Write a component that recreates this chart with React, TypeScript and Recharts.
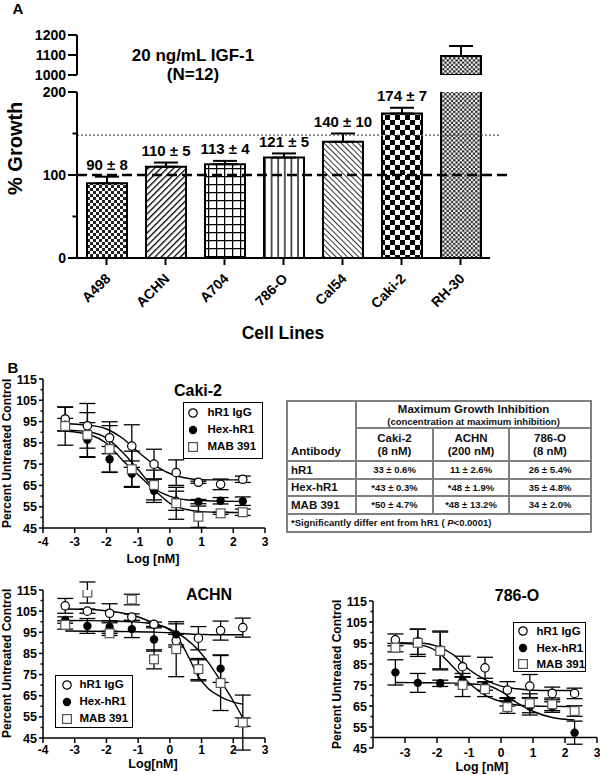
import React from 'react'
import {
  ComposedChart, Bar, Cell, XAxis, YAxis, ErrorBar, ReferenceLine, Line, Scatter, LabelList,
} from 'recharts'

const FONT = '"Liberation Sans", Arial, Helvetica, sans-serif'

// Panel A: % growth with 20 ng/mL IGF-1
const cellLines = ['A498', 'ACHN', 'A704', '786-O', 'Cal54', 'Caki-2', 'RH-30']
const growthMean = [90, 110, 113, 121, 140, 174, 1095]
const growthSem = [8, 5, 4, 5, 10, 7, 50]
const growthText = ['90 ± 8', '110 ± 5', '113 ± 4', '121 ± 5', '140 ± 10', '174 ± 7', '']
const baselineLevel = 100
const upperLevel = 148
const lowTicks = [0, 50, 100, 150, 200]
const lowLabels = [0, 100, 200]
const highTicks = [1000, 1100, 1200]

// Panel B: dose response, log [nM] vs percent untreated control
const doses = [-3.3, -2.6, -1.9, -1.2, -0.5, 0.2, 0.9, 1.6, 2.3]
const logTicks = [-4, -3, -2, -1, 0, 1, 2, 3]
const pctTicks = [45, 50, 55, 60, 65, 70, 75, 80, 85, 90, 95, 100, 105, 110, 115]
const pctLabels = [45, 55, 65, 75, 85, 95, 105, 115]
const seriesNames = ['hR1 IgG', 'Hex-hR1', 'MAB 391']

const cakiHr1 = [96.2, 93, 87.4, 83.5, 75, 71, 66.5, 65.5, 67.9]
const cakiHr1Err = [5.5, 10.5, 7.5, 10, 7, 6, 0.5, 2.5, 1.5]
const cakiHex = [93.5, 86.5, 77.3, 70.5, 62.5, 57.8, 57.4, 57.8, 57.6]
const cakiHexErr = [3, 8, 6, 6, 5.5, 4.5, 1, 1.5, 2]
const cakiMab = [92.9, 88.7, 82.1, 72.6, 65.2, 56.6, 50.3, 51.9, 52.4]
const cakiMabErr = [9, 10.5, 11, 8.5, 7, 7.5, 5, 0.5, 1.5]
const cakiFitX = [-3.3, -2.5, -2, -1.5, -1, -0.5, 0, 0.5, 1, 1.6, 2.3]
const cakiHr1Fit = [94, 93.2, 91.5, 87.3, 80.7, 74.8, 70.6, 68.5, 67.7, 67.6, 67.6]
const cakiHexFit = [91.1, 90, 87.3, 80.7, 72.5, 63.8, 59.9, 58.3, 57.9, 57.6, 57.5]
const cakiMabFit = [90.6, 88.7, 84.8, 77, 70, 63, 56.6, 53.8, 52.7, 52.4, 52.3]

const achnHr1 = [107.5, 105, 104, 102.2, 98.8, 91, 92.2, 95.8, 97.2]
const achnHr1Err = [3.5, 1, 4.5, 1.5, 1, 3, 5.5, 4.5, 4.5]
const achnHex = [100.8, 98, 97.5, 96.5, 91.6, 94, 77, 77.8, 52.5]
const achnHexErr = [1.5, 3.5, 3, 4, 5.5, 5, 5, 6.5, 2]
const achnMab = [98.5, 113.8, 94.5, 110.5, 82.2, 87, 77.6, 71, 52.3]
const achnMabErr = [2, 5, 1, 2.5, 4.5, 13, 5, 13, 13]
const achnFitX = [-3.3, -2.5, -1.8, -1.2, -0.5, 0, 0.2, 0.5, 0.9, 1.2, 1.6, 2, 2.3]
const achnHr1Fit = [95.6, 95.5, 95.4, 95.3, 95.1, 94.8, 94.6, 94.3, 94, 93.9, 93.8, 93.8, 93.8]
const achnHexFit = [100.6, 100.5, 100.3, 100, 98.8, 96.5, 95, 92, 86.5, 81, 72, 62.5, 54.5]
const achnMabFit = [106, 105.8, 104.8, 103.2, 99.4, 96, 93.5, 86, 74, 68.5, 64.5, 62, 61]

const rccHr1 = [96.5, 95.6, 91.7, 83.7, 83.2, 72.6, 74.5, 71, 71]
const rccHr1Err = [2.8, 6, 9, 5, 5, 4, 5.5, 3, 2.5]
const rccHex = [81, 76, 75.8, 77, 74.5, 67, 64.7, 64.5, 52.3]
const rccHexErr = [6, 4.5, 1.5, 2, 2, 2, 4, 2.5, 5.5]
const rccMab = [92.8, 95.1, 91.2, 75, 73, 64.5, 66.3, 65.8, 62.6]
const rccMabErr = [2, 6.5, 9, 5.5, 3.5, 3, 4.5, 3, 2.5]
const rccFitX = [-3.3, -2.5, -2, -1.5, -1, -0.5, 0, 0.5, 1, 1.6, 2.3]
const rccHr1Fit = [95.2, 95, 93.5, 89.5, 82.4, 77.6, 74.5, 73.2, 72.5, 72.4, 72.4]
const rccHexFit = [76.2, 76.1, 76, 75.9, 75.6, 75, 72, 66.5, 62.5, 59.5, 58.3]
const rccMabFit = [95, 94, 91, 83.7, 76, 70.2, 67.1, 65.5, 65, 64.8, 64.7]

// table
const tableLines = ['Caki-2', 'ACHN', '786-O']
const tableConc = ['(8 nM)', '(200 nM)', '(8 nM)']
const antibodies = ['hR1', 'Hex-hR1', 'MAB 391']
const inhibHr1 = ['33 ± 0.6%', '11 ± 2.6%', '26 ± 5.4%']
const inhibHex = ['*43 ± 0.3%', '*48 ± 1.9%', '35 ± 4.8%']
const inhibMab = ['*50 ± 4.7%', '*48 ± 13.2%', '34 ± 2.0%']

const barPatterns = ['pat-fine', 'pat-up', 'pat-grid', 'pat-vert', 'pat-down', 'pat-check', 'pat-tiny']

const lowRows = cellLines.map((name, i) => ({
  name,
  value: growthMean[i],
  err: growthMean[i] + growthSem[i] <= 200 ? [0, growthSem[i]] : null,
}))
const highRows = cellLines.map((name, i) => ({
  name,
  value: growthMean[i] >= 1000 ? growthMean[i] : null,
  err: growthMean[i] >= 1000 ? [0, growthSem[i]] : null,
}))

const toPoints = (ys: number[], errs: number[]) => doses.map((x, i) => ({ x, y: ys[i], e: errs[i] }))
const toCurve = (xs: number[], ys: number[]) => xs.map((x, i) => ({ x, y: ys[i] }))

function Patterns() {
  return (
    <svg width={0} height={0} style={{ position: 'absolute' }}>
      <defs>
        <pattern id="pat-fine" width={6} height={6} patternUnits="userSpaceOnUse">
          <rect width={6} height={6} fill="#fff" />
          <rect width={3} height={3} fill="#222" />
          <rect x={3} y={3} width={3} height={3} fill="#222" />
        </pattern>
        <pattern id="pat-tiny" width={4.4} height={4.4} patternUnits="userSpaceOnUse">
          <rect width={4.4} height={4.4} fill="#fff" />
          <rect width={2.2} height={2.2} fill="#222" />
          <rect x={2.2} y={2.2} width={2.2} height={2.2} fill="#222" />
        </pattern>
        <pattern id="pat-check" width={10} height={10} patternUnits="userSpaceOnUse">
          <rect width={10} height={10} fill="#fff" />
          <rect width={5} height={5} fill="#000" />
          <rect x={5} y={5} width={5} height={5} fill="#000" />
        </pattern>
        <pattern id="pat-up" width={4.5} height={4.5} patternUnits="userSpaceOnUse" patternTransform="rotate(45)">
          <rect width={4.5} height={4.5} fill="#fff" />
          <line x1={0} y1={0} x2={0} y2={4.5} stroke="#000" strokeWidth={2.6} />
        </pattern>
        <pattern id="pat-down" width={4} height={4} patternUnits="userSpaceOnUse" patternTransform="rotate(-45)">
          <rect width={4} height={4} fill="#fff" />
          <line x1={0} y1={0} x2={0} y2={4} stroke="#000" strokeWidth={1.6} />
        </pattern>
        <pattern id="pat-grid" width={8} height={8} patternUnits="userSpaceOnUse">
          <rect width={8} height={8} fill="#fff" />
          <line x1={0.5} y1={0} x2={0.5} y2={8} stroke="#000" strokeWidth={1.5} />
          <line x1={0} y1={0.5} x2={8} y2={0.5} stroke="#000" strokeWidth={1.5} />
        </pattern>
        <pattern id="pat-vert" width={6.6} height={6.6} patternUnits="userSpaceOnUse">
          <rect width={6.6} height={6.6} fill="#fff" />
          <line x1={1} y1={0} x2={1} y2={6.6} stroke="#000" strokeWidth={1.3} />
        </pattern>
      </defs>
    </svg>
  )
}

function YTick(props: any) {
  const { x, y, payload, gap, labels, majorLen, minorLen, fontSize, sw } = props
  const ax = x + gap
  const major = labels.includes(payload.value)
  return (
    <g>
      <line x1={ax - (major ? majorLen : minorLen)} x2={ax} y1={y} y2={y} stroke="#000" strokeWidth={sw} />
      {major && (
        <text x={ax - majorLen - 2} y={y} dy="0.36em" textAnchor="end" fontSize={fontSize}
          fontWeight="bold" fontFamily={FONT} fill="#000">{payload.value}</text>
      )}
    </g>
  )
}

function SlantTick({ x, y, payload }: any) {
  const tx = x + 5
  const ty = y + 12.5
  return (
    <text x={tx} y={ty} transform={`rotate(-45 ${tx} ${ty})`} textAnchor="end" fontSize={14}
      fontWeight="bold" fontFamily={FONT} fill="#000">{payload.value}</text>
  )
}

function OffsetXTick({ x, y, payload }: any) {
  return (
    <g>
      <line x1={x} x2={x} y1={y - 10.5} y2={y - 5} stroke="#000" strokeWidth={1.5} />
      <text x={x} y={y + 8.5} textAnchor="middle" fontSize={12} fontWeight="bold" fontFamily={FONT} fill="#000">
        {payload.value}
      </text>
    </g>
  )
}

const extendedLine = (extra: number) => (p: any) => (
  <line x1={p.x1} y1={p.y1} x2={p.x2 + extra} y2={p.y2} stroke={p.stroke}
    strokeWidth={p.strokeWidth} strokeDasharray={p.strokeDasharray} />
)

const renderGrowthLabel = (props: any) => {
  const vb = props.viewBox || props
  const i = cellLines.indexOf(props.value)
  if (i < 0 || !growthText[i]) return null
  const h = Math.abs(vb.height)
  const top = Math.min(vb.y, vb.y + vb.height)
  const cy = top - growthSem[i] * (h / growthMean[i]) - 12
  return (
    <text x={vb.x + vb.width / 2} y={cy} dy="0.36em" textAnchor="middle" fontSize={15}
      fontWeight="bold" fontFamily={FONT} fill="#000">{growthText[i]}</text>
  )
}

function Marker({ kind, cx, cy }: { kind: number; cx: number; cy: number }) {
  if (kind === 1) return <circle cx={cx} cy={cy} r={4.2} fill="#000" />
  if (kind === 2) {
    return <rect x={cx - 4.4} y={cy - 4.4} width={8.8} height={8.8} fill="#fff" stroke="#555" strokeWidth={1.2} />
  }
  return <circle cx={cx} cy={cy} r={4.2} fill="#fff" stroke="#000" strokeWidth={1.2} />
}

function TextAt({ cx, cy, size, children, w = 300 }: any) {
  return (
    <div style={{
      position: 'absolute', left: cx - w / 2, top: cy - size * 0.59, width: w, textAlign: 'center',
      fontSize: size, lineHeight: `${size * 1.2}px`, fontWeight: 'bold', fontFamily: FONT, whiteSpace: 'nowrap',
    }}>{children}</div>
  )
}

function VLabel({ cx, cy, size, children }: any) {
  return (
    <div style={{
      position: 'absolute', left: cx - (size + 4) / 2, top: cy - 130, height: 260, width: size + 4,
      writingMode: 'vertical-rl', transform: 'rotate(180deg)', textAlign: 'center', fontSize: size,
      lineHeight: `${size + 4}px`, fontWeight: 'bold', fontFamily: FONT, whiteSpace: 'nowrap',
    }}>{children}</div>
  )
}

function LegendBox({ left, top, width, height, padTop, rowH, markerX, textX }: any) {
  return (
    <div style={{
      position: 'absolute', left, top, width, height, boxSizing: 'border-box', border: '1.5px solid #000',
      background: '#fff', fontFamily: FONT, fontWeight: 'bold', fontSize: 11.5, paddingTop: padTop,
    }}>
      {seriesNames.map((name, i) => (
        <div key={name} style={{ position: 'relative', height: rowH, lineHeight: `${rowH}px` }}>
          <svg width={12} height={12} style={{ position: 'absolute', left: markerX - 7.5, top: rowH / 2 - 6 }}>
            <Marker kind={i} cx={6} cy={6} />
          </svg>
          <span style={{ position: 'absolute', left: textX - 1.5, whiteSpace: 'nowrap' }}>{name}</span>
        </div>
      ))}
    </div>
  )
}

function DoseChart({ left, top, height, margin, fitX, fits, pts, offsetXAxis, tickGap = 3 }: any) {
  return (
    <div style={{ position: 'absolute', left, top }}>
      <ComposedChart width={280} height={height} margin={margin}>
        {offsetXAxis ? (
          <XAxis type="number" dataKey="x" domain={[-4, 3]} ticks={logTicks.slice(1)} interval={0} height={27}
            axisLine={false} tickLine={false} tickSize={0} tickMargin={0} tick={<OffsetXTick />} allowDataOverflow />
        ) : (
          <XAxis type="number" dataKey="x" domain={[-4, 3]} ticks={logTicks} interval={0} height={30}
            axisLine={{ stroke: '#000', strokeWidth: 1.5 }} tickLine={{ stroke: '#000', strokeWidth: 1.5 }}
            tickSize={5} tickMargin={tickGap} allowDataOverflow
            tick={{ fontSize: 12, fontWeight: 'bold', fill: '#000', fontFamily: FONT }} />
        )}
        <YAxis type="number" dataKey="y" domain={[45, 115]} ticks={pctTicks} interval={0} width={43} allowDataOverflow
          axisLine={{ stroke: '#000', strokeWidth: 1.5 }} tickLine={false} tickSize={4} tickMargin={0}
          tick={<YTick gap={4} labels={pctLabels} majorLen={4} minorLen={2.5} fontSize={12.5} sw={1.5} />} />
        {offsetXAxis && <ReferenceLine y={50} stroke="#000" strokeWidth={1.5} />}
        {fits.map((f: number[], i: number) => (
          <Line key={'fit' + i} data={toCurve(fitX, f)} dataKey="y" type="monotone" dot={false} activeDot={false}
            stroke="#000" strokeWidth={1.4} isAnimationActive={false} />
        ))}
        {pts.map((p: any[], i: number) => (
          <Scatter key={'pts' + i} data={p} dataKey="y" isAnimationActive={false}
            shape={(s: any) => <Marker kind={i} cx={s.cx} cy={s.cy} />}>
            <ErrorBar dataKey="e" direction="y" width={8} stroke="#000" strokeWidth={1.3} />
          </Scatter>
        ))}
      </ComposedChart>
    </div>
  )
}

const cellB = { border: '2px solid #808080', padding: 0 }

function InhibitionTable() {
  const rows = [inhibHr1, inhibHex, inhibMab]
  return (
    <table style={{
      position: 'absolute', left: 286, top: 400, width: 304, height: 130, borderCollapse: 'collapse',
      tableLayout: 'fixed', fontFamily: FONT, fontWeight: 'bold', color: '#111', background: '#fff',
    }}>
      <colgroup>
        <col style={{ width: 69 }} />
        <col style={{ width: 77 }} />
        <col style={{ width: 76 }} />
        <col style={{ width: 82 }} />
      </colgroup>
      <tbody>
        <tr style={{ height: 27 }}>
          <td rowSpan={2} style={{ ...cellB, verticalAlign: 'bottom', paddingLeft: 3, paddingBottom: 3, fontSize: 11.5 }}>
            Antibody
          </td>
          <td colSpan={3} style={{ ...cellB, textAlign: 'center' }}>
            <div style={{ fontSize: 11.5, lineHeight: '13px' }}>Maximum Growth Inhibition</div>
            <div style={{ fontSize: 9.5, lineHeight: '11px' }}>(concentration at maximum inhibition)</div>
          </td>
        </tr>
        <tr style={{ height: 33 }}>
          {tableLines.map((c, i) => (
            <td key={c} style={{ ...cellB, textAlign: 'center', fontSize: 11.5, lineHeight: '13px' }}>
              {c}<br />{tableConc[i]}
            </td>
          ))}
        </tr>
        {antibodies.map((a, r) => (
          <tr key={a} style={{ height: 17.5 }}>
            <td style={{ ...cellB, paddingLeft: 3, fontSize: 11.5 }}>{a}</td>
            {rows[r].map((v, c) => (
              <td key={c} style={{ ...cellB, textAlign: 'center', fontSize: 9.5 }}>{v}</td>
            ))}
          </tr>
        ))}
        <tr style={{ height: 18 }}>
          <td colSpan={4} style={{ ...cellB, paddingLeft: 3, fontSize: 9.5 }}>
            *Significantly differ ent from hR1 ( <i>P</i>&lt;0.0001)
          </td>
        </tr>
      </tbody>
    </table>
  )
}

export default function App() {
  const yTickA = (labels: number[]) => (
    <YTick gap={9} labels={labels} majorLen={9} minorLen={4.5} fontSize={14} sw={2} />
  )
  return (
    <div style={{ position: 'absolute', left: 0, top: 0, width: 600, height: 775, background: '#fff', fontFamily: FONT }}>
      <Patterns />

      {/* panel A, broken axis: upper segment */}
      <div style={{ position: 'absolute', left: 0, top: 0 }}>
        <ComposedChart width={520} height={90} data={highRows} margin={{ top: 35, right: 30, bottom: 15, left: 0 }}>
          <XAxis dataKey="name" hide />
          <YAxis type="number" domain={[1000, 1200]} ticks={highTicks} interval={0} width={77} allowDataOverflow
            axisLine={{ stroke: '#000', strokeWidth: 2 }} tickLine={false} tickSize={9} tickMargin={0}
            tick={yTickA(highTicks)} />
          <Bar dataKey="value" barSize={40} stroke="#000" strokeWidth={2} isAnimationActive={false}>
            {highRows.map((r, i) => <Cell key={r.name} fill={`url(#${barPatterns[i]})`} />)}
            <ErrorBar dataKey="err" direction="y" width={12} stroke="#000" strokeWidth={2} />
          </Bar>
        </ComposedChart>
      </div>

      {/* panel A, lower segment */}
      <div style={{ position: 'absolute', left: 0, top: 80 }}>
        <ComposedChart width={520} height={260} data={lowRows} margin={{ top: 12, right: 30, bottom: 22, left: 0 }}>
          <XAxis dataKey="name" interval={0} height={60} axisLine={{ stroke: '#000', strokeWidth: 2 }}
            tickLine={{ stroke: '#000', strokeWidth: 2 }} tickSize={7} tickMargin={2} tick={<SlantTick />} />
          <YAxis type="number" domain={[0, 200]} ticks={lowTicks} interval={0} width={77} allowDataOverflow
            axisLine={{ stroke: '#000', strokeWidth: 2 }} tickLine={false} tickSize={9} tickMargin={0}
            tick={yTickA(lowLabels)} />
          <Bar dataKey="value" barSize={40} stroke="#000" strokeWidth={2} isAnimationActive={false}>
            {lowRows.map((r, i) => <Cell key={r.name} fill={`url(#${barPatterns[i]})`} />)}
            <ErrorBar dataKey="err" direction="y" width={12} stroke="#000" strokeWidth={2} />
            <LabelList dataKey="name" content={renderGrowthLabel} />
          </Bar>
          <ReferenceLine y={upperLevel} stroke="#555" strokeWidth={1.2} strokeDasharray="2 2" shape={extendedLine(10)} />
          <ReferenceLine y={baselineLevel} stroke="#000" strokeWidth={2.6} strokeDasharray="10 5" shape={extendedLine(19)} />
        </ComposedChart>
      </div>

      <TextAt cx={18} cy={9} size={15} w={40}>A</TextAt>
      <TextAt cx={193} cy={56} size={17}>20 ng/mL IGF-1</TextAt>
      <TextAt cx={193} cy={75} size={17}>(N=12)</TextAt>
      <VLabel cx={15} cy={148} size={20}>% Growth</VLabel>
      <TextAt cx={283} cy={333} size={17.5}>Cell Lines</TextAt>

      {/* panel B */}
      <TextAt cx={13} cy={368} size={15} w={40}>B</TextAt>

      <DoseChart left={0} top={370} height={200} margin={{ top: 9, right: 15, bottom: 12, left: 0 }} tickGap={4}
        fitX={cakiFitX} fits={[cakiHr1Fit, cakiHexFit, cakiMabFit]}
        pts={[toPoints(cakiHr1, cakiHr1Err), toPoints(cakiHex, cakiHexErr), toPoints(cakiMab, cakiMabErr)]} />
      <TextAt cx={198} cy={390} size={16}>Caki-2</TextAt>
      <TextAt cx={153} cy={559} size={12.5}>Log [nM]</TextAt>
      <VLabel cx={7} cy={453} size={12}>Percent Untreated Control</VLabel>
      <LegendBox left={183} top={402} width={80} height={57} padTop={1} rowH={17} markerX={10} textX={25} />

      <InhibitionTable />

      <DoseChart left={0} top={580} height={195} margin={{ top: 10, right: 15, bottom: 7, left: 0 }} tickGap={2}
        fitX={achnFitX} fits={[achnHr1Fit, achnHexFit, achnMabFit]}
        pts={[toPoints(achnHr1, achnHr1Err), toPoints(achnHex, achnHexErr), toPoints(achnMab, achnMabErr)]} />
      <TextAt cx={209} cy={594} size={16}>ACHN</TextAt>
      <TextAt cx={153} cy={764} size={12.5}>Log[nM]</TextAt>
      <VLabel cx={7} cy={663} size={12}>Percent Untreated Control</VLabel>
      <LegendBox left={55} top={675} width={78} height={53} padTop={0} rowH={17} markerX={12} textX={25} />

      <DoseChart left={330} top={592} height={183} margin={{ top: 9, right: 13, bottom: 0, left: 0 }} offsetXAxis
        fitX={rccFitX} fits={[rccHr1Fit, rccHexFit, rccMabFit]}
        pts={[toPoints(rccHr1, rccHr1Err), toPoints(rccHex, rccHexErr), toPoints(rccMab, rccMabErr)]} />
      <TextAt cx={517} cy={595} size={16}>786-O</TextAt>
      <TextAt cx={482} cy={767} size={12.5}>Log [nM]</TextAt>
      <VLabel cx={337} cy={674} size={12}>Percent Untreated Control</VLabel>
      <LegendBox left={513} top={622} width={73} height={50} padTop={0} rowH={16.5} markerX={10} textX={24} />
    </div>
  )
}
